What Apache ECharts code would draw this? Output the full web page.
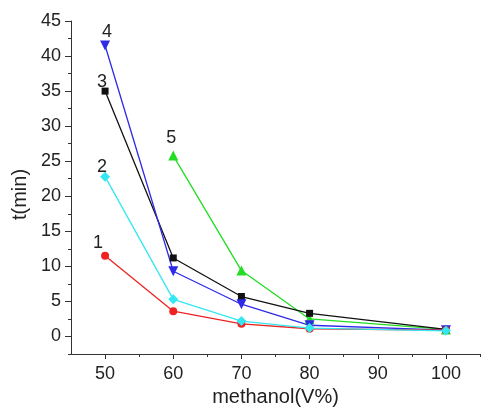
<!DOCTYPE html>
<html>
<head>
<meta charset="utf-8">
<script src="https://cdn.jsdelivr.net/npm/echarts@6/dist/echarts.min.js"></script>
<style>
  html, body { margin: 0; padding: 0; background: #fff; }
  #chart { width: 481px; height: 407px; }
</style>
</head>
<body>
<div id="chart"></div>
<script>
// methanol content (V%)
const methanol = [50, 60, 70, 80, 100];
const methanolCurve5 = [60, 70, 80, 100];

// retention time t (min)
const curve1 = [11.5, 3.6, 1.8, 1.1, 0.9];
const curve2 = [22.8, 5.3, 2.2, 1.2, 0.8];
const curve3 = [35.0, 11.2, 5.7, 3.3, 1.0];
const curve4 = [41.5, 9.3, 4.6, 1.6, 0.9];
const curve5 = [25.8, 9.4, 2.5, 1.0];

const curveNames = ['1', '2', '3', '4', '5'];

const xMajorTicks = [50, 60, 70, 80, 90, 100];
const xMinorTicks = [55, 65, 75, 85, 95, 105];
const yMajorTicks = [0, 5, 10, 15, 20, 25, 30, 35, 40, 45];
const yMinorTicks = [-2.5, 2.5, 7.5, 12.5, 17.5, 22.5, 27.5, 32.5, 37.5, 42.5];

const chart = echarts.init(document.getElementById('chart'), null, { renderer: 'canvas' });

const textColor = '#222';
const axisColor = '#333';
const font = 'Liberation Sans, Arial, sans-serif';

const makeSeries = (name, xs, ys, color, symbol, size, labelOffset, extra) => ({
  name: name,
  type: 'line',
  xAxisIndex: 0,
  yAxisIndex: 0,
  data: xs.map((x, i) => i === 0 ? {
    value: [x, ys[i]],
    label: {
      show: true,
      formatter: name,
      position: 'inside',
      offset: labelOffset,
      color: textColor,
      fontSize: 18,
      fontFamily: font,
    },
  } : [x, ys[i]]),
  symbol: symbol,
  symbolSize: size,
  lineStyle: { color: color, width: 1.3 },
  itemStyle: { color: color },
  z: 3,
  ...(extra || {}),
});

const option = {
  animation: false,
  backgroundColor: '#fff',
  grid: { left: 71, right: 1, top: 21, bottom: 53, outerBoundsMode: 'none', containLabel: false },
  xAxis: [
    {
      type: 'value',
      min: 45,
      max: 105,
      position: 'bottom',
      name: 'methanol(V%)',
      nameLocation: 'middle',
      nameGap: 32,
      nameTextStyle: { color: textColor, fontSize: 20, fontFamily: font },
      axisLine: { onZero: false, lineStyle: { color: axisColor, width: 1 } },
      axisTick: { customValues: xMajorTicks, length: 5, lineStyle: { color: axisColor } },
      axisLabel: { customValues: xMajorTicks, color: textColor, fontSize: 18, fontFamily: font, margin: 11 },
      splitLine: { show: false },
    },
    {
      type: 'value',
      min: 45,
      max: 105,
      position: 'bottom',
      axisLine: { show: false, onZero: false },
      axisTick: { customValues: xMinorTicks, length: 3, lineStyle: { color: axisColor } },
      axisLabel: { show: false },
      splitLine: { show: false },
    },
  ],
  yAxis: [
    {
      type: 'value',
      min: -2.5,
      max: 45,
      position: 'left',
      name: 't(min)',
      nameLocation: 'middle',
      nameGap: 40,
      nameTextStyle: { color: textColor, fontSize: 20, fontFamily: font, padding: [0, 14, 0, 0] },
      axisLine: { show: true, onZero: false, lineStyle: { color: axisColor, width: 1 } },
      axisTick: { show: true, customValues: yMajorTicks, length: 6, lineStyle: { color: axisColor } },
      axisLabel: { customValues: yMajorTicks, color: textColor, fontSize: 18, fontFamily: font, margin: 10 },
      splitLine: { show: false },
    },
    {
      type: 'value',
      min: -2.5,
      max: 45,
      position: 'left',
      axisLine: { show: false, onZero: false },
      axisTick: { show: true, customValues: yMinorTicks, length: 3, lineStyle: { color: axisColor } },
      axisLabel: { show: false },
      splitLine: { show: false },
    },
  ],
  series: [
    makeSeries(curveNames[4], methanolCurve5, curve5, '#22dd22', 'triangle', 10, [-2, -18]),
    makeSeries(curveNames[2], methanol, curve3, '#111111', 'rect', 7, [-3, -9]),
    makeSeries(curveNames[3], methanol, curve4, '#2f2ae8', 'triangle', 10, [2, -14], { symbolRotate: 180 }),
    makeSeries(curveNames[0], methanol, curve1, '#ee2222', 'circle', 8, [-7, -13]),
    makeSeries(curveNames[1], methanol, curve2, '#33e8f0', 'diamond', 10, [-3, -10]),
  ],
};

chart.setOption(option);
</script>
</body>
</html>
